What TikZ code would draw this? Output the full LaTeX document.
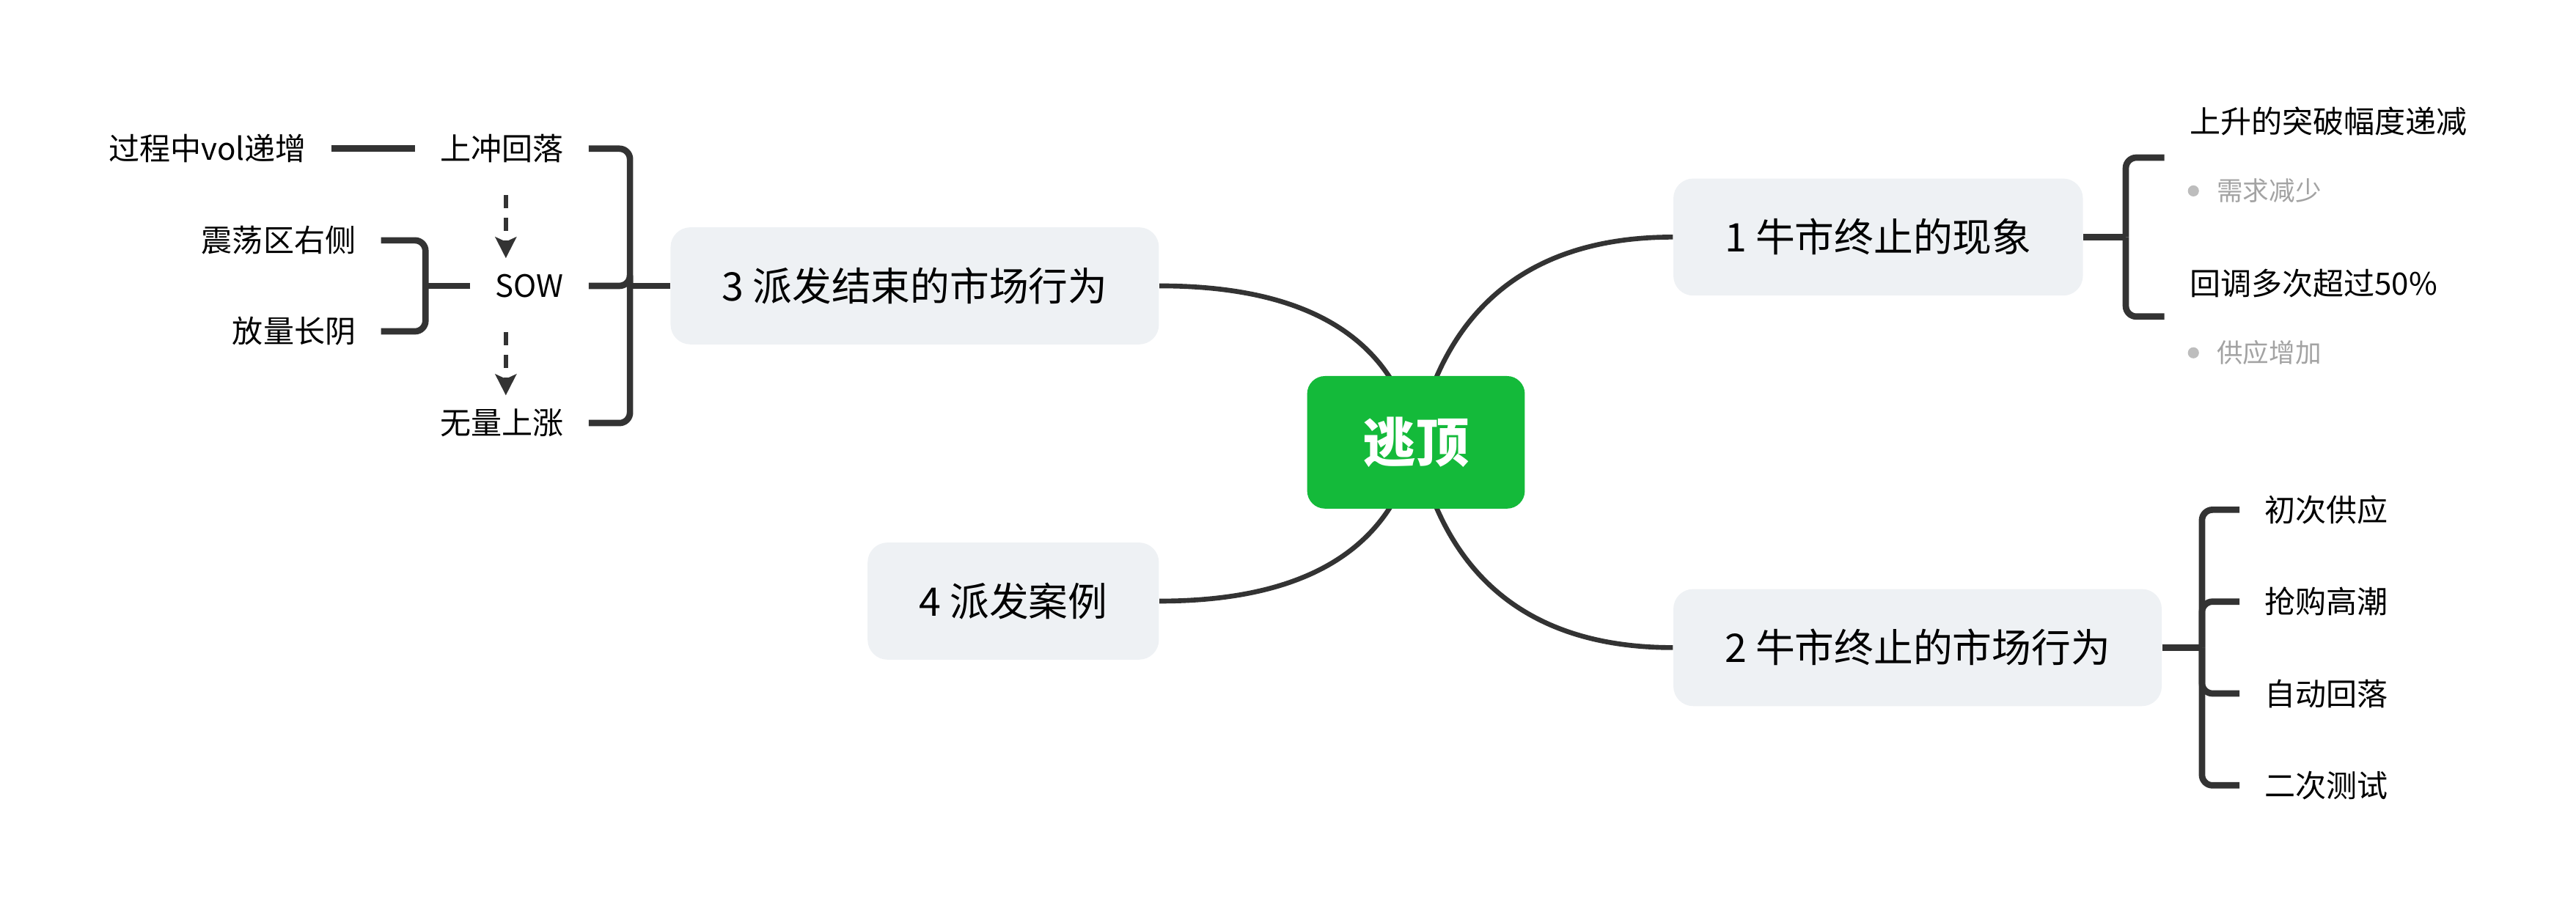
\documentclass[tikz,border=0pt]{standalone}
\usepackage{fontspec}
\setmainfont{Noto Sans CJK SC}
\usepackage{tikz}
\usetikzlibrary{arrows.meta,backgrounds}

\definecolor{rootgreen}{HTML}{14BA3A}
\definecolor{boxgray}{HTML}{EEF1F4}
\definecolor{linegray}{HTML}{333333}
\definecolor{notegray}{HTML}{A3A3A3}
\definecolor{dotgray}{HTML}{BDBDBD}

\begin{document}
\begin{tikzpicture}[
		rootbox/.style={fill=rootgreen, text=white, rounded corners=0.27cm, minimum width=3.3cm, minimum height=2.01cm, font=\fontsize{22.8}{26}\selectfont\bfseries},
		topic/.style={fill=boxgray, rounded corners=0.3cm, inner xsep=0.78cm, minimum height=1.775cm, font=\fontsize{17}{20}\selectfont},
		leaf/.style={inner xsep=0.375cm, inner ysep=0.1cm, font=\fontsize{13.3}{16}\selectfont},
		remark/.style={inner sep=0pt, anchor=west, text=notegray, font=\fontsize{11.25}{14}\selectfont},
		branch/.style={draw=linegray, line width=2.1pt},
		bracket/.style={draw=linegray, line width=2.75pt, rounded corners=0.16cm},
		flow/.style={draw=linegray, line width=1.9pt, dash pattern=on 0.205cm off 0.14cm, -{Stealth[length=0.32cm, width=0.32cm, inset=0.07cm]}, shorten <=0.7cm, shorten >=0.42cm}
	]
		\useasboundingbox (0,0) rectangle (39.05,13.775);
		\node[rootbox] (root) at (21.465, 7.0675) {逃顶};
		\node[topic, anchor=west] (phen) at (25.36, 10.18) {1 牛市终止的现象};
		\node[topic, anchor=west] (bull) at (25.36, 3.955) {2 牛市终止的市场行为};
		\node[topic, anchor=east] (dist) at (17.575, 9.44) {3 派发结束的市场行为};
		\node[topic, anchor=east] (case) at (17.575, 4.66) {4 派发案例};

		\begin{scope}[on background layer]
			\draw[branch] (root.center) to[out=78, in=180, out looseness=1.08, in looseness=1.1] (phen.west);
			\draw[branch] (root.center) to[out=-78, in=180, out looseness=1.08, in looseness=1.1] (bull.west);
			\draw[branch] (root.center) to[out=102, in=0, out looseness=0.91, in looseness=1.26] (dist.east);
			\draw[branch] (root.center) to[out=-102, in=0, out looseness=0.91, in looseness=1.26] (case.east);
		\end{scope}

		\coordinate (b1) at (32.225, 10.18);
		\coordinate (j1) at (32.81, 11.385);
		\coordinate (j2) at (32.81, 8.975);
		\node[leaf, anchor=west] (rise) at (32.81, 11.94) {上升的突破幅度递减};
		\node[remark] (demand) at (33.6, 10.88) {需求减少};
		\node[leaf, anchor=west] (pull) at (32.81, 9.48) {回调多次超过50\%};
		\node[remark] (supply) at (33.6, 8.425) {供应增加};
		\fill[dotgray] ([xshift=-0.35cm]demand.west) circle (0.084cm);
		\fill[dotgray] ([xshift=-0.35cm]supply.west) circle (0.084cm);
		\draw[bracket] (phen.east) -- (b1);
		\foreach \k in {j1,j2}
			\draw[bracket] (b1) |- (\k);

		\coordinate (b2) at (33.38, 3.955);
		\node[leaf, anchor=west] (sup) at (33.95, 6.045) {初次供应};
		\node[leaf, anchor=west] (climax) at (33.95, 4.652) {抢购高潮};
		\node[leaf, anchor=west] (ar) at (33.95, 3.259) {自动回落};
		\node[leaf, anchor=west] (st) at (33.95, 1.866) {二次测试};
		\draw[bracket] (bull.east) -- (b2);
		\foreach \k in {sup,climax,ar,st}
			\draw[bracket] (b2) |- (\k.west);

		\coordinate (b3) at (9.55, 9.44);
		\node[leaf, anchor=east] (upfall) at (8.925, 11.52) {上冲回落};
		\node[leaf, anchor=east] (sow) at (8.925, 9.44) {SOW};
		\node[leaf, anchor=east] (rally) at (8.925, 7.36) {无量上涨};
		\draw[bracket] (dist.west) -- (b3);
		\foreach \k in {upfall,sow,rally}
			\draw[bracket] (b3) |- (\k.east);

		\node[leaf, anchor=east] (vol) at (5.025, 11.52) {过程中vol递增};
		\draw[bracket] (vol.east) -- (upfall.west);

		\coordinate (b4) at (6.45, 9.44);
		\node[leaf, anchor=east] (zone) at (5.775, 10.13) {震荡区右侧};
		\node[leaf, anchor=east] (bar) at (5.775, 8.75) {放量长阴};
		\draw[bracket] (sow.west) -- (b4);
		\foreach \k in {zone,bar}
			\draw[bracket] (b4) |- (\k.east);

		\draw[flow] ([xshift=0.06cm]upfall.center) -- ([xshift=0.06cm]upfall.center |- sow.center);
		\draw[flow] ([xshift=0.06cm]sow.center -| rally.center) -- ([xshift=0.06cm]rally.center);
		% \draw[flow] (sow.south) -- (rally.north);
	\end{tikzpicture}
\end{document}
